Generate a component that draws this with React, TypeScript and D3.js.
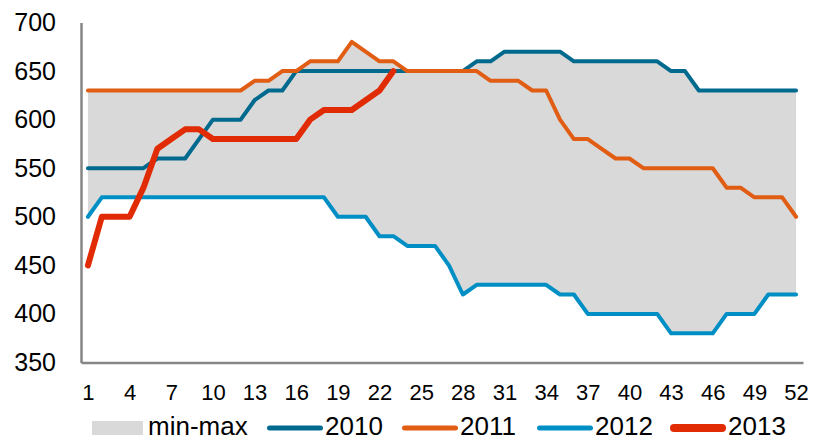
import React, { useRef, useEffect } from 'react';
import * as d3 from 'd3';

// week numbers and tick labels
const weeks: number[] = d3.range(1, 53);
const xTicks = [1, 4, 7, 10, 13, 16, 19, 22, 25, 28, 31, 34, 37, 40, 43, 46, 49, 52];
const yTicks = [350, 400, 450, 500, 550, 600, 650, 700];

// weekly values
const s2010 = [
    550, 550, 550, 550, 550, 560, 560, 560, 580, 600,
    600, 600, 620, 630, 630, 650, 650, 650, 650, 650,
    650, 650, 650, 650, 650, 650, 650, 650, 660, 660,
    670, 670, 670, 670, 670, 660, 660, 660, 660, 660,
    660, 660, 650, 650, 630, 630, 630, 630, 630, 630,
    630, 630,
];
const s2011 = [
    630, 630, 630, 630, 630, 630, 630, 630, 630, 630,
    630, 630, 640, 640, 650, 650, 660, 660, 660, 680,
    670, 660, 660, 650, 650, 650, 650, 650, 650, 640,
    640, 640, 630, 630, 600, 580, 580, 570, 560, 560,
    550, 550, 550, 550, 550, 550, 530, 530, 520, 520,
    520, 500,
];
const s2012 = [
    500, 520, 520, 520, 520, 520, 520, 520, 520, 520,
    520, 520, 520, 520, 520, 520, 520, 520, 500, 500,
    500, 480, 480, 470, 470, 470, 450, 420, 430, 430,
    430, 430, 430, 430, 420, 420, 400, 400, 400, 400,
    400, 400, 380, 380, 380, 380, 400, 400, 400, 420,
    420, 420,
];
const s2013 = [
    450, 500, 500, 500, 530, 570, 580, 590, 590, 580,
    580, 580, 580, 580, 580, 580, 600, 610, 610, 610,
    620, 630, 650,
];

const seriesNames = ['2010', '2011', '2012', '2013'];
const seriesData = [s2010, s2011, s2012, s2013];
const seriesColors = ['#006A8E', '#E05D13', '#008FC4', '#E02B04'];
const seriesWidths = [4, 4, 4, 6];
const bandLabel = 'min-max';

const W = 814;
const H = 440;

const App: React.FC = () => {
    const svgRef = useRef<SVGSVGElement>(null);

    useEffect(() => {
        if (!svgRef.current) return;
        const svg = d3.select(svgRef.current);
        svg.selectAll('*').remove();

        const font = "'Liberation Sans', Arial, sans-serif";
        const left = 81, right = 803, top = 22.5, bottom = 362.5;

        const x = d3.scalePoint<number>().domain(weeks).range([left, right]).padding(0.5);
        const y = d3.scaleLinear().domain([350, 700]).range([bottom, top]);

        // min-max band from past years
        const past = [s2010, s2011, s2012];
        const band = weeks.map((w, i) => ({
            w,
            lo: d3.min(past, s => s[i]) as number,
            hi: d3.max(past, s => s[i]) as number,
        }));
        const area = d3.area<{ w: number; lo: number; hi: number }>()
            .x(d => x(d.w) as number)
            .y0(d => y(d.lo))
            .y1(d => y(d.hi));
        svg.append('path').datum(band).attr('d', area).attr('fill', '#D9D9D9');

        // axes
        const yAxis = svg.append('g')
            .attr('transform', `translate(${left},0)`)
            .call(d3.axisLeft(y).tickValues(yTicks).tickSize(0).tickPadding(25).tickFormat(d3.format('d')));
        const xAxis = svg.append('g')
            .attr('transform', `translate(0,${bottom})`)
            .call(d3.axisBottom(x).tickValues(xTicks).tickSize(0).tickPadding(21.5));

        [yAxis, xAxis].forEach(g => {
            g.select('.domain').attr('stroke', '#868686').attr('stroke-width', 2.5);
            g.selectAll('text').attr('fill', '#000').attr('font-family', font);
        });
        yAxis.selectAll('text').attr('font-size', 25);
        xAxis.selectAll('text').attr('font-size', 22);

        // series lines
        const line = d3.line<number>()
            .x((_, i) => x(weeks[i]) as number)
            .y(d => y(d));

        seriesData.forEach((s, i) => {
            svg.append('path')
                .datum(s)
                .attr('d', line)
                .attr('fill', 'none')
                .attr('stroke', seriesColors[i])
                .attr('stroke-width', seriesWidths[i])
                .attr('stroke-linejoin', 'round')
                .attr('stroke-linecap', 'round');
        });

        // legend (kept just inside the bottom edge)
        const ly = 428;
        const base = 434.5;
        const lg = svg.append('g').attr('font-family', font).attr('font-size', 26).attr('fill', '#000');
        lg.append('rect').attr('x', 92).attr('y', ly - 7).attr('width', 51).attr('height', 14).attr('fill', '#D9D9D9');
        lg.append('text').attr('x', 148).attr('y', base).text(bandLabel);

        const legendX = [267, 402, 537, 670];
        seriesNames.forEach((name, i) => {
            const w = i === 3 ? 8 : 5;
            lg.append('line')
                .attr('x1', legendX[i] + w / 2).attr('x2', legendX[i] + 56 - w / 2)
                .attr('y1', ly).attr('y2', ly)
                .attr('stroke', seriesColors[i])
                .attr('stroke-width', w)
                .attr('stroke-linecap', 'round');
            lg.append('text')
                .attr('x', legendX[i] + 58).attr('y', base)
                .text(name);
        });
    }, []);

    return (
        <div style={{ position: 'fixed', left: 0, top: 0, width: W, height: H, background: '#fff' }}>
            <svg ref={svgRef} width={W} height={H} viewBox={`0 0 ${W} ${H}`} />
        </div>
    );
};

export default App;
